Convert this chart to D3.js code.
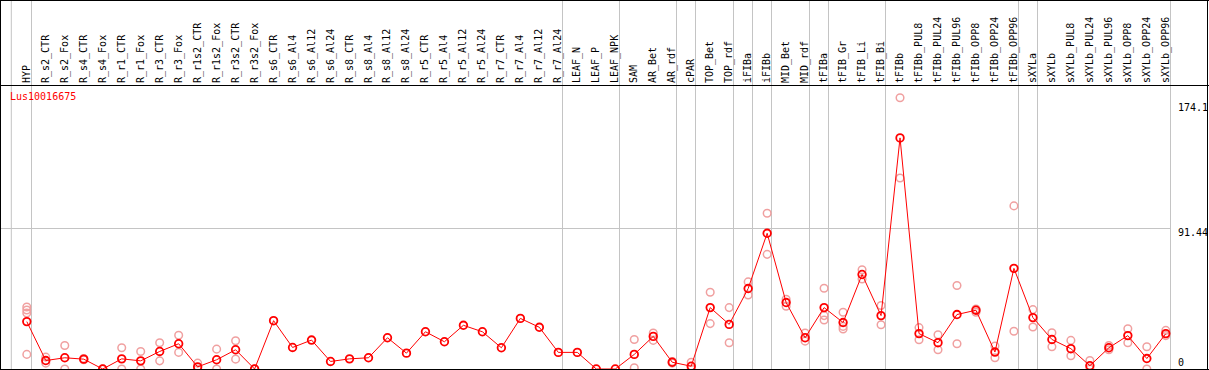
<!DOCTYPE html>
<html><head><meta charset="utf-8">
<script src="https://cdn.jsdelivr.net/npm/d3@7"></script>
<style>body{margin:0;background:#fff}svg{display:block}text{font-family:"DejaVu Sans Mono",monospace;font-size:10px}</style>
</head><body>
<script>
const categories = ["HYP","R_s2_CTR","R_s2_Fox","R_s4_CTR","R_s4_Fox","R_r1_CTR","R_r1_Fox","R_r3_CTR","R_r3_Fox","R_r1s2_CTR","R_r1s2_Fox","R_r3s2_CTR","R_r3s2_Fox","R_s6_CTR","R_s6_Al4","R_s6_Al12","R_s6_Al24","R_s8_CTR","R_s8_Al4","R_s8_Al12","R_s8_Al24","R_r5_CTR","R_r5_Al4","R_r5_Al12","R_r5_Al24","R_r7_CTR","R_r7_Al4","R_r7_Al12","R_r7_Al24","LEAF_N","LEAF_P","LEAF_NPK","SAM","AR_Bet","AR_rdf","cPAR","TOP_Bet","TOP_rdf","iFIBa","iFIBb","MID_Bet","MID_rdf","tFIBa","tFIB_Gr","tFIB_Li","tFIB_Bi","tFIBb","tFIBb_PUL8","tFIBb_PUL24","tFIBb_PUL96","tFIBb_OPP8","tFIBb_OPP24","tFIBb_OPP96","sXYLa","sXYLb","sXYLb_PUL8","sXYLb_PUL24","sXYLb_PUL96","sXYLb_OPP8","sXYLb_OPP24","sXYLb_OPP96"];
const groupEnds = ["HYP","R_r7_Al24","LEAF_NPK","AR_rdf","cPAR","TOP_rdf","iFIBa","iFIBb","MID_rdf","tFIBa","tFIB_Bi","tFIBb_OPP96","sXYLa","sXYLb_OPP96"];
const means = [30.8,5.5,7.3,6.4,0,6.6,5.3,11.4,16.4,1.4,6.0,12.5,0,31.4,14.0,18.8,4.9,6.6,7.3,20.3,10.3,24.2,17.7,28.4,24.2,13.8,32.9,27.1,10.8,10.8,0,0,9.5,21.2,4.4,1.8,39.9,29.0,52.3,88.2,43.2,20.3,39.9,30.2,61.4,34.7,150.2,23.0,17.1,35.4,38.2,11.0,65.4,33.4,19.2,13.2,2.1,13.8,21.7,6.8,23.0];
const replicates = [[40.3,38.3,36.4,9.5],[7.7,3.8],[15.3,0],[6.8,6.0],[0,0],[13.8,0],[11.4,0],[17.1,5.3],[21.9,10.8],[3.8,0],[12.9,0],[18.4,6.4],[0,0],
[],[],[],[],[],[],[],[],[],[],[],[],[],[],[],[],[],[],[],
[19.2,0.8],[23.4,18.6],[4.9,3.8],[4.4,0],[49.9,29.5],[39.9,17.1],[56.6,48.1],[101.2,74.5],[45.3,40.8],[23.4,18.1],[52.5,34.7,31.8],[36.9,27.7,26.0],[64.5,58.5],[41.3,28.8],[176.3,124.1],[26.9,19.0],[22.3,12.5],[54.3,16.4],[39.0,36.9],[14.9,7.3],[106.0,24.5],[38.6,27.3],[23.6,14.5],[18.6,8.6],[5.5,0],[15.3,12.5],[26.2,17.1],[14.5,0],[25.1,21.7]];
const yTicks = [174.1, 91.44, 0];
const gene = "Lus10016675";

const W = 1209, H = 370;
const svg = d3.select("body").append("svg").attr("width", W).attr("height", H);
const x = d3.scalePoint().domain(categories).range([26.8, 1165.8]);
const y = d3.scaleLinear().domain([0, 91.44]).range([369, 228.3]);
const headerY = 85, plotRight = 1170;

// vertical group separators
const sepX = [x("HYP") - 15.5].concat(groupEnds.map(c => Math.round(x(c) + 3.7) + 0.5));
svg.selectAll("line.sep").data(sepX).join("line").attr("class","sep")
  .attr("x1", d => d).attr("x2", d => d).attr("y1", 0).attr("y2", H)
  .attr("stroke", "#c4c4c4").attr("stroke-width", 1);
// horizontal grid at middle tick
svg.append("line").attr("x1", 0).attr("x2", plotRight).attr("y1", Math.round(y(91.44)) + 0.5).attr("y2", Math.round(y(91.44)) + 0.5)
  .attr("stroke", "#c4c4c4").attr("stroke-width", 1);

// header labels
svg.selectAll("text.cat").data(categories).join("text").attr("class","cat")
  .attr("transform", d => `translate(${x(d) + 3},${headerY - 2}) rotate(-90)`)
  .attr("fill", "#000").text(d => d);

// replicates
const reps = [];
replicates.forEach((arr, i) => arr.forEach(v => reps.push({c: categories[i], v})));
svg.selectAll("circle.rep").data(reps).join("circle").attr("class","rep")
  .attr("cx", d => x(d.c)).attr("cy", d => y(d.v)).attr("r", 3.8)
  .attr("fill", "none").attr("stroke", "#f0a0a0").attr("stroke-width", 1.5);

// mean line
const md = categories.map((c, i) => ({c, v: means[i]}));
svg.append("path").datum(md)
  .attr("d", d3.line().x(d => x(d.c)).y(d => y(d.v)))
  .attr("fill", "none").attr("stroke", "#ff0000").attr("stroke-width", 1);
svg.selectAll("circle.mean").data(md).join("circle").attr("class","mean")
  .attr("cx", d => x(d.c)).attr("cy", d => y(d.v)).attr("r", 3.8)
  .attr("fill", "none").attr("stroke", "#ff0000").attr("stroke-width", 1.8);

// right axis labels
const dyOff = [10, 7.7, -3.5];
svg.selectAll("text.tick").data(yTicks).join("text").attr("class","tick")
  .attr("x", 1178).attr("y", (d, i) => y(d) + dyOff[i]).attr("fill", "#000").text(d => d);

// gene label
svg.append("text").attr("x", 10).attr("y", 100).attr("fill", "#ff0000").text(gene);

// frame
const k = "#000";
svg.append("line").attr("x1",0).attr("x2",W).attr("y1",0.5).attr("y2",0.5).attr("stroke",k);
svg.append("line").attr("x1",0).attr("x2",W).attr("y1",headerY+0.5).attr("y2",headerY+0.5).attr("stroke",k);
svg.append("line").attr("x1",0).attr("x2",W).attr("y1",369.5).attr("y2",369.5).attr("stroke",k);
svg.append("line").attr("x1",0.5).attr("x2",0.5).attr("y1",0).attr("y2",H).attr("stroke",k);
svg.append("line").attr("x1",1207.5).attr("x2",1207.5).attr("y1",0).attr("y2",H).attr("stroke",k);
</script>
</body></html>
